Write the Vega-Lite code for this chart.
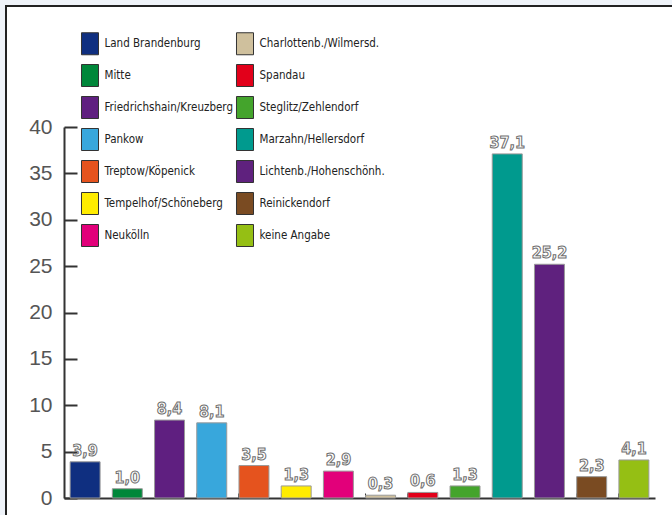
{
  "$schema": "https://vega.github.io/schema/vega-lite/v6.json",
  "autosize": "none",
  "width": 670,
  "height": 513,
  "padding": {"left": 6, "top": 6, "right": -4, "bottom": -4},
  "background": "#eff3f9",
  "config": {
    "view": {"fill": "white", "stroke": "#222", "strokeWidth": 2},
    "locale": {"number": {"decimal": ",", "thousands": ".", "grouping": [3], "currency": ["", " €"]}}
  },
  "data": {
    "values": [
      {"bezirk": "Land Brandenburg", "wert": 3.9},
      {"bezirk": "Mitte", "wert": 1.0},
      {"bezirk": "Friedrichshain/Kreuzberg", "wert": 8.4},
      {"bezirk": "Pankow", "wert": 8.1},
      {"bezirk": "Treptow/Köpenick", "wert": 3.5},
      {"bezirk": "Tempelhof/Schöneberg", "wert": 1.3},
      {"bezirk": "Neukölln", "wert": 2.9},
      {"bezirk": "Charlottenb./Wilmersd.", "wert": 0.3},
      {"bezirk": "Spandau", "wert": 0.6},
      {"bezirk": "Steglitz/Zehlendorf", "wert": 1.3},
      {"bezirk": "Marzahn/Hellersdorf", "wert": 37.1},
      {"bezirk": "Lichtenb./Hohenschönh.", "wert": 25.2},
      {"bezirk": "Reinickendorf", "wert": 2.3},
      {"bezirk": "keine Angabe", "wert": 4.1}
    ]
  },
  "encoding": {
    "x": {
      "field": "bezirk",
      "type": "nominal",
      "sort": null,
      "scale": {"range": [58, 649], "paddingInner": 0.29, "paddingOuter": 0.145},
      "axis": {
        "labels": false,
        "title": null,
        "tickSize": -5,
        "tickWidth": 1,
        "tickColor": "#333",
        "domainColor": "#333",
        "domainWidth": 2,
        "bandPosition": 0,
        "offset": -21
      }
    },
    "y": {
      "field": "wert",
      "type": "quantitative",
      "scale": {"domain": [0, 40], "nice": false, "range": [492, 121]},
      "axis": {
        "values": [0, 5, 10, 15, 20, 25, 30, 35, 40],
        "title": null,
        "grid": false,
        "labelFont": "Liberation Sans",
        "labelFontSize": 21,
        "labelColor": "#555",
        "labelPadding": 25,
        "tickSize": -13,
        "tickWidth": 2,
        "tickColor": "#333",
        "domainColor": "#333",
        "domainWidth": 2,
        "offset": -58
      }
    }
  },
  "layer": [
    {
      "mark": {"type": "bar", "stroke": "#9a9a9a", "strokeWidth": 1},
      "encoding": {
        "color": {
          "field": "bezirk",
          "type": "nominal",
          "scale": {
            "domain": ["Land Brandenburg", "Mitte", "Friedrichshain/Kreuzberg", "Pankow", "Treptow/Köpenick", "Tempelhof/Schöneberg", "Neukölln", "Charlottenb./Wilmersd.", "Spandau", "Steglitz/Zehlendorf", "Marzahn/Hellersdorf", "Lichtenb./Hohenschönh.", "Reinickendorf", "keine Angabe"],
            "range": ["#0f2f80", "#00873a", "#5f1f80", "#38a7dc", "#e5531e", "#ffec00", "#e2007a", "#cfc09d", "#e2001a", "#44a42c", "#009a8e", "#5f217e", "#7a4b22", "#95bf14"]
          },
          "legend": {
            "orient": "none",
            "legendX": 72.5,
            "legendY": 26,
            "title": null,
            "columns": 2,
            "direction": "vertical",
            "columnPadding": 0,
            "rowPadding": 5,
            "symbolType": "M-0.773,-1H0.773V1H-0.773Z",
            "symbolSize": 484,
            "symbolStrokeColor": "#333",
            "symbolStrokeWidth": 1,
            "symbolOpacity": 1,
            "symbolFillOpacity": 1,
            "labelOffset": 3,
            "labelFont": "DejaVu Sans Condensed",
            "labelFontSize": 11.5,
            "labelColor": "#222",
            "labelLimit": 0,
            "padding": 0
          }
        }
      }
    },
    {
      "mark": {
        "type": "text",
        "baseline": "bottom",
        "dy": -3,
        "font": "DejaVu Sans Condensed",
        "fontWeight": "bold",
        "fontSize": 16,
        "fill": "white",
        "stroke": "#6f6f6f",
        "strokeWidth": 1
      },
      "encoding": {
        "text": {"field": "wert", "type": "quantitative", "format": ".1f"}
      }
    }
  ]
}
